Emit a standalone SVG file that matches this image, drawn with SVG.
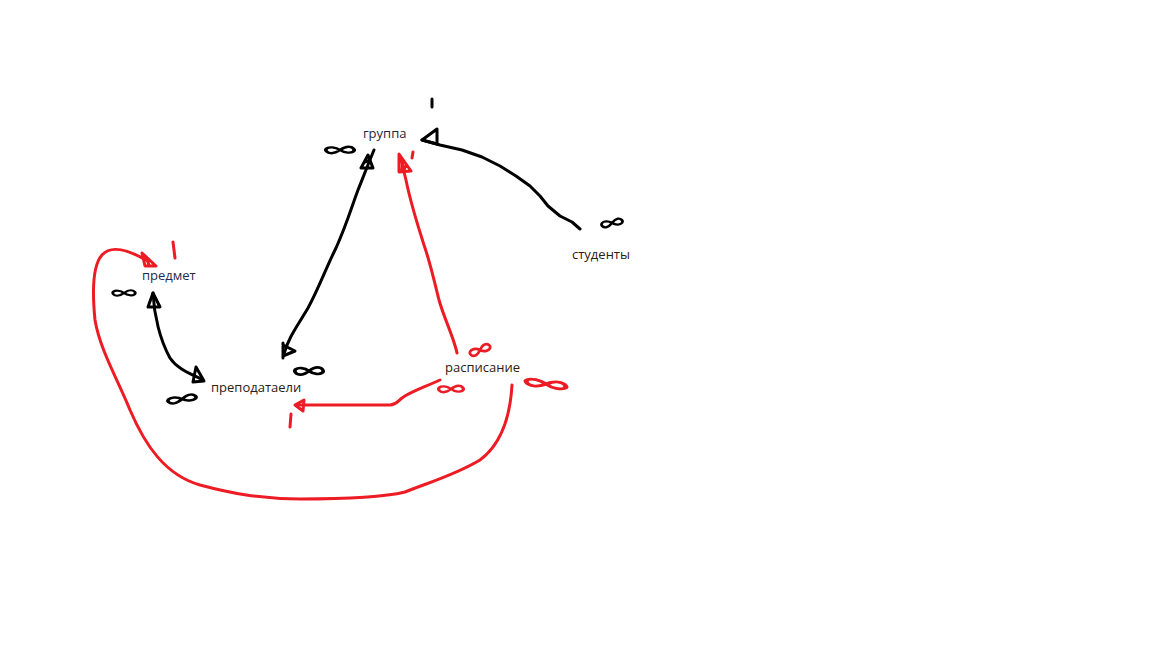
<svg xmlns="http://www.w3.org/2000/svg" width="1152" height="648" viewBox="0 0 1152 648">
<style>
.bk{fill:none;stroke:#000;stroke-width:3;stroke-linecap:round;stroke-linejoin:round}
.rd{fill:none;stroke:#ed1c24;stroke-width:3;stroke-linecap:round;stroke-linejoin:round}
.t{font-family:"Open Sans","Liberation Sans",sans-serif;font-size:13px}
</style>
<defs>
<path id="inf" d="M0,0 C-4,-4 -9,-4 -11,-2 C-13,0 -11,4 -7,4 C-4,4 -2,2 0,0 C2,-2 4,-4 7,-4 C11,-4 13,0 11,2 C9,4 4,4 0,0 Z"/>
</defs>
<rect width="1152" height="648" fill="#fff"/>
<g id="connectors">
<!-- преподатаели - группа -->
<path class="bk" d="M284,354 C288,338 298,325 308,308 C318,290 326,268 336,248 C346,226 352,206 358,190 C364,175 369,162 374,150"/>
<path class="bk" d="M368,155 L373,168 L361,168 Z M365,162 L370,160"/>
<path class="bk" d="M283,343 L283,358 M283,345 L295,351 L283,356"/>
<!-- студенты - группа -->
<path class="bk" d="M580,229 L572,222 L560,216 L548,206 L540,196 L530,186 L516,176 L500,166 L482,157 L462,150 L440,145 L422,140"/>
<path class="bk" d="M437,129 L437,144 L422,140 Z"/>
<path class="bk" d="M432,99 L432,107"/>
<!-- предмет - преподатаели -->
<path class="bk" d="M153,293 C154,315 160,340 170,358 C178,370 192,374 203,380"/>
<path class="bk" d="M153,293 L160,307 L148,307 Z"/>
<path class="bk" d="M196,367 L204,381 L193,382 Z"/>
<!-- расписание - группа -->
<path class="rd" d="M457,353 C454,338 444,318 439,300 C434,280 430,262 424,245 C416,220 410,200 406,180 L400,156"/>
<path class="rd" d="M399,154 L411,171 L399,172 Z M403,160 L402,170 M406,165 L404,170"/>
<path class="rd" d="M413,152 L412,158"/>
<!-- расписание - преподатаели -->
<path class="rd" d="M440,380 C425,387 410,392 402,398 C397,402 396,405 390,405 L297,405"/>
<path class="rd" d="M295,405 L304,400 L303,411 Z"/>
<path class="rd" d="M291,414 L290,427"/>
<!-- расписание - предмет loop -->
<path class="rd" d="M512,385 C510,420 500,445 480,460 C455,475 430,482 405,492 C380,498 340,499 300,499 C260,499 230,493 200,485 C165,475 145,445 130,410 C118,380 100,350 95,320 C92,290 93,265 102,255 C110,246 125,248 146,260"/>
<path class="rd" d="M142,253 L156,266 L145,266 Z M146,257 L149,265"/>
<path class="rd" d="M173,242 L175,258"/>
</g>
<g id="cardinalities">
<use href="#inf" class="bk" transform="translate(340,150) scale(1.2,0.8)"/>
<use href="#inf" class="bk" transform="translate(124,293) scale(0.95,0.7)"/>
<use href="#inf" class="bk" transform="translate(182,399) rotate(-8) scale(1.2,0.8)"/>
<use href="#inf" class="bk" transform="translate(309,371) scale(1.2,0.9)"/>
<use href="#inf" class="bk" transform="translate(612,223) rotate(-10) scale(0.9,0.8)"/>
<use href="#inf" class="rd" transform="translate(480,350) rotate(-20) scale(0.9,0.9)"/>
<use href="#inf" class="rd" transform="translate(451,389) scale(1.05,0.8)"/>
<use href="#inf" class="rd" transform="translate(546,384) rotate(8) scale(1.7,0.9)"/>
</g>
<g id="группа"><text class="t" x="363" y="138" fill="#1f1f3f">группа</text></g>
<g id="предмет"><text class="t" x="142" y="280" fill="#1f2a4f">предмет</text></g>
<g id="преподатаели"><text class="t" x="211" y="392" fill="#2b2010">преподатаели</text></g>
<g id="расписание"><text class="t" x="445" y="372" fill="#2b2010">расписание</text></g>
<g id="студенты"><text class="t" x="572" y="259" fill="#2b2010">студенты</text></g>
</svg>
